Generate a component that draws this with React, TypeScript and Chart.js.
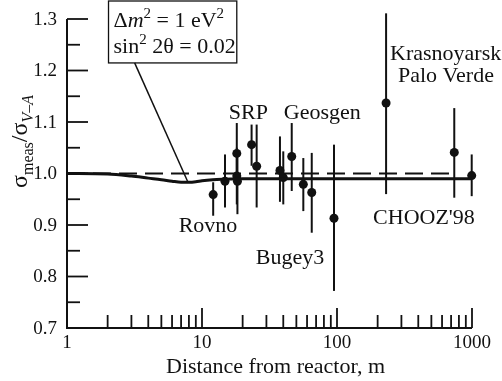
import React, { useEffect, useRef } from 'react';
import { Chart, registerables } from 'chart.js';

Chart.register(...registerables);

// Measurements (distance in m, ratio sigma_meas / sigma_V-A)
const distances = [12.1, 14.8, 18.1, 18.1, 18.3, 23.3, 25.4, 37.8, 40.0, 46.2, 56.3, 65, 95, 231, 739, 995];
const ratios = [0.959, 0.985, 1.039, 0.995, 0.985, 1.056, 1.014, 1.006, 0.992, 1.033, 0.979, 0.963, 0.913, 1.137, 1.041, 0.996];
const errLow = [0.918, 0.934, 0.985, 0.94, 0.921, 1.015, 0.934, 0.945, 0.94, 0.966, 0.927, 0.885, 0.772, 0.96, 0.953, 0.956];
const errHigh = [0.983, 1.037, 1.098, 1.05, 1.04, 1.095, 1.095, 1.072, 1.043, 1.098, 1.03, 1.04, 1.056, 1.311, 1.127, 1.037];

// Oscillation curve (dm^2 = 1 eV^2, sin^2 2theta = 0.02)
const curveDistance = [1, 2, 3, 4, 5, 6, 7, 8, 9, 10, 12, 15, 20, 30, 50, 100, 1000];
const curveRatio = [1.0, 0.999, 0.995, 0.991, 0.988, 0.985, 0.983, 0.983, 0.984, 0.986, 0.988, 0.989, 0.990, 0.990, 0.990, 0.990, 0.990];

// Reference (no oscillation) line
const referenceDistance = [1, 725];
const referenceRatio = [1, 1];

// Axes
const yMajorTicks = [0.7, 0.8, 0.9, 1.0, 1.1, 1.2, 1.3];
const yMajorLabels = ['0.7', '0.8', '0.9', '1.0', '1.1', '1.2', '1.3'];
const yMinorTicks = [0.75, 0.85, 0.95, 1.05, 1.15, 1.25];
const xMajorTicks = [1, 10, 100, 1000];
const xMajorLabels = ['1', '10', '100', '1000'];
const xMinorTicks = [2, 3, 4, 5, 6, 7, 8, 9, 20, 30, 40, 50, 60, 70, 80, 90, 200, 300, 400, 500, 600, 700, 800, 900];

// Experiment labels
const experimentNames = ['SRP', 'Geosgen', 'Rovno', 'Bugey3', 'Krasnoyarsk', 'Palo Verde', "CHOOZ'98"];
// label anchors (left/baseline) in data coordinates
const experimentAnchorX = [15.8, 40.4, 6.72, 25.0, 247, 283, 185];
const experimentAnchorY = [1.106, 1.106, 0.886, 0.824, 1.2205, 1.178, 0.901];

const FONT = '"Liberation Serif", "Times New Roman", serif';

const decorPlugin = {
  id: 'decor',
  beforeDatasetsDraw(chart: any) {
    const { ctx, scales } = chart;
    const xs = scales.x, ys = scales.y;
    ctx.save();
    ctx.strokeStyle = '#111';
    ctx.lineWidth = 2;
    for (let i = 0; i < distances.length; i++) {
      const px = xs.getPixelForValue(distances[i]);
      ctx.beginPath();
      ctx.moveTo(px, ys.getPixelForValue(errLow[i]));
      ctx.lineTo(px, ys.getPixelForValue(errHigh[i]));
      ctx.stroke();
    }
    ctx.restore();
  },
  afterDraw(chart: any) {
    const { ctx, scales, chartArea } = chart;
    const xs = scales.x, ys = scales.y;
    const { left, right, top, bottom } = chartArea;
    ctx.save();
    ctx.strokeStyle = '#111';
    ctx.fillStyle = '#111';

    // axis lines
    ctx.lineWidth = 2;
    ctx.beginPath();
    ctx.moveTo(left, top);
    ctx.lineTo(left, bottom);
    ctx.lineTo(right, bottom);
    ctx.stroke();

    // ticks
    ctx.lineWidth = 1.8;
    yMajorTicks.forEach((v) => {
      const py = ys.getPixelForValue(v);
      ctx.beginPath(); ctx.moveTo(left, py); ctx.lineTo(left + 21, py); ctx.stroke();
    });
    yMinorTicks.forEach((v) => {
      const py = ys.getPixelForValue(v);
      ctx.beginPath(); ctx.moveTo(left, py); ctx.lineTo(left + 13, py); ctx.stroke();
    });
    xMajorTicks.forEach((v) => {
      const px = xs.getPixelForValue(v);
      ctx.beginPath(); ctx.moveTo(px, bottom); ctx.lineTo(px, bottom - 20); ctx.stroke();
    });
    xMinorTicks.forEach((v) => {
      const px = xs.getPixelForValue(v);
      ctx.beginPath(); ctx.moveTo(px, bottom); ctx.lineTo(px, bottom - 13); ctx.stroke();
    });

    // tick labels
    ctx.font = `19px ${FONT}`;
    ctx.textAlign = 'right';
    ctx.textBaseline = 'middle';
    yMajorTicks.forEach((v, i) => {
      ctx.fillText(yMajorLabels[i], left - 10, ys.getPixelForValue(v) + 1);
    });
    ctx.textAlign = 'center';
    ctx.textBaseline = 'alphabetic';
    xMajorTicks.forEach((v, i) => {
      ctx.fillText(xMajorLabels[i], xs.getPixelForValue(v), bottom + 20);
    });

    // x title
    ctx.font = `22px ${FONT}`;
    ctx.fillText('Distance from reactor, m', (left + right) / 2 + 6, bottom + 45);

    // y title (rotated)
    ctx.save();
    ctx.translate(27, 188);
    ctx.rotate(-Math.PI / 2);
    ctx.textAlign = 'left';
    let cx = 0;
    const piece = (t: string, font: string, dy: number) => {
      ctx.font = font;
      ctx.fillText(t, cx, dy);
      cx += ctx.measureText(t).width;
    };
    piece('σ', `24px ${FONT}`, 0);
    piece('meas', `16px ${FONT}`, 6);
    piece('/', `24px ${FONT}`, 0);
    piece('σ', `24px ${FONT}`, 0);
    piece('V–A', `italic 16px ${FONT}`, 6);
    ctx.restore();

    // experiment labels
    ctx.font = `22px ${FONT}`;
    ctx.textAlign = 'left';
    experimentNames.forEach((name, i) => {
      ctx.fillText(name, xs.getPixelForValue(experimentAnchorX[i]), ys.getPixelForValue(experimentAnchorY[i]));
    });

    // parameter box with leader line
    const bx0 = xs.getPixelForValue(2.03);
    const bx1 = xs.getPixelForValue(18.1);
    const by1 = ys.getPixelForValue(1.2147);
    const by0 = 1;
    ctx.fillStyle = '#fff';
    ctx.fillRect(bx0, by0, bx1 - bx0, by1 - by0);
    ctx.fillStyle = '#111';
    ctx.lineWidth = 1.3;
    ctx.strokeRect(bx0, by0, bx1 - bx0, by1 - by0);
    ctx.lineWidth = 1.5;
    ctx.beginPath();
    ctx.moveTo(xs.getPixelForValue(3.17), by1);
    ctx.lineTo(xs.getPixelForValue(7.83), ys.getPixelForValue(0.9845));
    ctx.stroke();

    const tx = bx0 + 5;
    const seq = (parts: [string, string, number][], y: number) => {
      let x = tx;
      parts.forEach(([t, f, dy]) => {
        ctx.font = f;
        ctx.fillText(t, x, y + dy);
        x += ctx.measureText(t).width;
      });
    };
    const n = `22px ${FONT}`, it = `italic 22px ${FONT}`, sup = `15px ${FONT}`;
    seq([['Δ', n, 0], ['m', it, 0], ['2', sup, -9], [' = 1 eV', n, 0], ['2', sup, -9]], 27);
    seq([['sin', n, 0], ['2', sup, -9], [' 2θ = 0.02', n, 0]], 53);

    ctx.restore();
  },
};

export default function App() {
  const ref = useRef<HTMLCanvasElement | null>(null);
  useEffect(() => {
    if (!ref.current) return;
    const chart = new Chart(ref.current, {
      type: 'scatter',
      data: {
        datasets: [
          {
            type: 'line',
            data: curveDistance.map((d, i) => ({ x: d, y: curveRatio[i] })),
            borderColor: '#111',
            borderWidth: 3,
            pointRadius: 0,
            cubicInterpolationMode: 'monotone',
            clip: false,
          } as any,
          {
            type: 'line',
            data: referenceDistance.map((d, i) => ({ x: d, y: referenceRatio[i] })),
            borderColor: '#111',
            borderWidth: 2,
            borderDash: [18, 8],
            pointRadius: 0,
            clip: false,
          } as any,
          {
            type: 'scatter',
            data: distances.map((d, i) => ({ x: d, y: ratios[i] })),
            backgroundColor: '#111',
            borderColor: '#111',
            borderWidth: 0,
            pointRadius: 4.5,
            clip: false,
          } as any,
        ],
      },
      options: {
        responsive: false,
        animation: false,
        devicePixelRatio: 1,
        layout: { padding: { left: 67, top: 19, right: 30, bottom: 53 } },
        scales: {
          x: { type: 'logarithmic', min: 1, max: 1000, display: false },
          y: { type: 'linear', min: 0.7, max: 1.3, display: false },
        },
        plugins: { legend: { display: false }, tooltip: { enabled: false } },
      },
      plugins: [decorPlugin],
    });
    return () => chart.destroy();
  }, []);
  return (
    <div style={{ position: 'fixed', left: 0, top: 0, width: 502, height: 381, background: '#fff' }}>
      <canvas ref={ref} width={502} height={381} style={{ width: 502, height: 381 }} />
    </div>
  );
}
